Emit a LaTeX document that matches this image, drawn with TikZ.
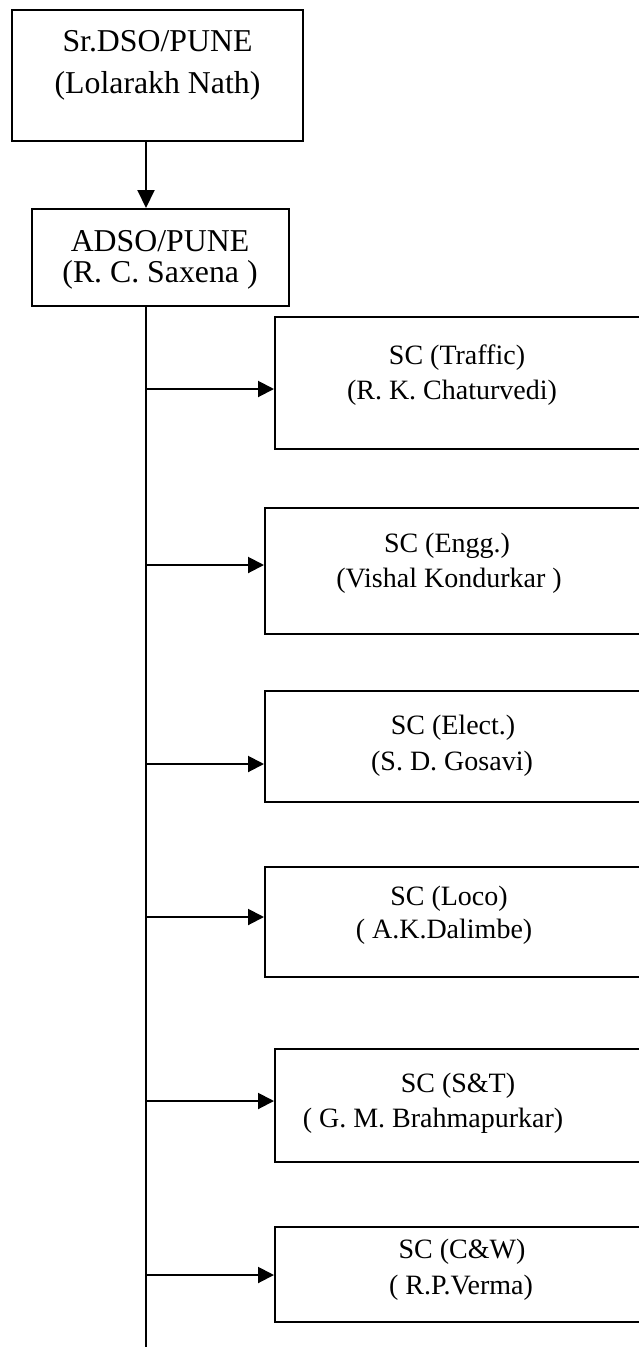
\documentclass[tikz,border=0pt]{standalone}
\usepackage{fontspec}
\setmainfont{Liberation Serif}
\usetikzlibrary{arrows.meta}
\begin{document}
\begin{tikzpicture}[x=1pt,y=-1pt,
  box/.style={draw, line width=2pt, inner sep=0pt},
  big/.style={font=\fontsize{31.8}{38}\selectfont, anchor=base, inner sep=0pt},
  small/.style={font=\fontsize{28}{34}\selectfont, anchor=base, inner sep=0pt},
  line/.style={line width=2pt},
  conn/.style={line width=2pt, -{Triangle[length=16pt,width=16pt]}},
  connv/.style={line width=2pt, -{Triangle[length=18pt,width=17pt]}}]
\path[clip] (0,0) rectangle (639,1347);
\fill[white] (0,0) rectangle (639,1347);
% boxes
\node[box, minimum width=291pt, minimum height=131pt] (dso) at (157.5,75.5) {};
\node[box, minimum width=257pt, minimum height=97pt] (adso) at (160.5,257.5) {};
\node[box, minimum width=375pt, minimum height=132pt] (traffic) at (462.5,383) {};
\node[box, minimum width=385pt, minimum height=126pt] (engg) at (457.5,571) {};
\node[box, minimum width=385pt, minimum height=111pt] (elect) at (457.5,746.5) {};
\node[box, minimum width=385pt, minimum height=110pt] (loco) at (457.5,922) {};
\node[box, minimum width=375pt, minimum height=113pt] (snt) at (462.5,1105.5) {};
\node[box, minimum width=375pt, minimum height=95pt] (cnw) at (462.5,1274.5) {};
% texts
\node[big] (dsoA) at (157.5,51) {Sr.DSO/PUNE};
\node[big] (dsoB) at (157.5,93) {(Lolarakh Nath)};
\node[big] (adsoA) at (160,251) {ADSO/PUNE};
\node[big] (adsoB) at (160,282) {(R. C. Saxena )};
\node[small] (trafficA) at (457,364) {SC (Traffic)};
\node[small] (trafficB) at (452,399) {(R. K. Chaturvedi)};
\node[small] (enggA) at (447,552) {SC (Engg.)};
\node[small] (enggB) at (449,587) {(Vishal Kondurkar )};
\node[small] (electA) at (453,734) {SC (Elect.)};
\node[small] (electB) at (452,770) {(S. D. Gosavi)};
\node[small] (locoA) at (449,905) {SC (Loco)};
\node[small] (locoB) at (444,938) {( A.K.Dalimbe)};
\node[small] (sntA) at (458,1092) {SC (S\&T)};
\node[small] (sntB) at (433,1127) {( G. M. Brahmapurkar)};
\node[small] (cnwA) at (462,1258) {SC (C\&W)};
\node[small] (cnwB) at (461,1294) {( R.P.Verma)};
% trunk
\coordinate (trunk) at (146,0);
\coordinate (trunkEnd) at (146,1347);
\coordinate (b1) at (146,389);
\coordinate (b2) at (146,565);
\coordinate (b3) at (146,764);
\coordinate (b4) at (146,917);
\coordinate (b5) at (146,1101);
\coordinate (b6) at (146,1275);
\draw[connv] (dso.south -| trunk) -- (adso.north -| trunk);
\draw[line] (adso.south -| trunk) -- (trunkEnd);
\draw[conn] (b1) -- (b1 -| traffic.west);
\draw[conn] (b2) -- (b2 -| engg.west);
\draw[conn] (b3) -- (b3 -| elect.west);
\draw[conn] (b4) -- (b4 -| loco.west);
\draw[conn] (b5) -- (b5 -| snt.west);
\draw[conn] (b6) -- (b6 -| cnw.west);
\end{tikzpicture}
\end{document}
